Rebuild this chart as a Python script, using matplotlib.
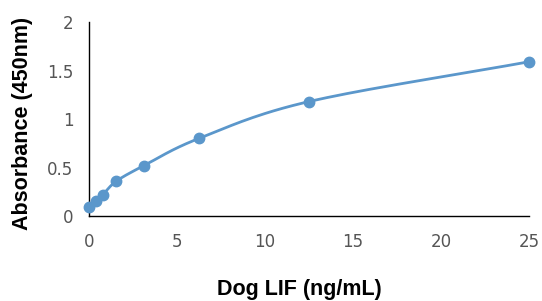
import matplotlib
matplotlib.use("Agg")
import matplotlib.pyplot as plt
import numpy as np

conc = [0, 0.39, 0.78, 1.56, 3.125, 6.25, 12.5, 25]
absorb = [0.09, 0.16, 0.22, 0.36, 0.52, 0.80, 1.18, 1.59]
xticks = [0, 5, 10, 15, 20, 25]
yticks = [0, 0.5, 1, 1.5, 2]
yticklabels = ["0", "0.5", "1", "1.5", "2"]


def suavizar(x, y, passos=30):
    """Curva suave tipo Excel (Catmull-Rom) passando pelos pontos."""
    x = np.asarray(x, float)
    y = np.asarray(y, float)
    px = np.concatenate([[2 * x[0] - x[1]], x, [2 * x[-1] - x[-2]]])
    py = np.concatenate([[2 * y[0] - y[1]], y, [2 * y[-1] - y[-2]]])
    xs, ys = [], []
    t = np.linspace(0, 1, passos)
    for i in range(1, len(px) - 2):
        b1x = px[i] + (px[i + 1] - px[i - 1]) / 6
        b1y = py[i] + (py[i + 1] - py[i - 1]) / 6
        b2x = px[i + 1] - (px[i + 2] - px[i]) / 6
        b2y = py[i + 1] - (py[i + 2] - py[i]) / 6
        xs.append((1 - t) ** 3 * px[i] + 3 * (1 - t) ** 2 * t * b1x
                  + 3 * (1 - t) * t ** 2 * b2x + t ** 3 * px[i + 1])
        ys.append((1 - t) ** 3 * py[i] + 3 * (1 - t) ** 2 * t * b1y
                  + 3 * (1 - t) * t ** 2 * b2y + t ** 3 * py[i + 1])
    return np.concatenate(xs), np.concatenate(ys)


cor = "#5b97cb"
fig = plt.figure(figsize=(5.42, 3.01), dpi=100)
ax = fig.add_axes([0.164, 0.282, 0.812, 0.645])

sx, sy = suavizar(conc, absorb)
ax.plot(sx, sy, color=cor, linewidth=2.0, zorder=2)
ax.plot(conc, absorb, "o", color=cor, markersize=7.5, zorder=3,
        clip_on=False)

ax.set_xlim(0, 25)
ax.set_ylim(0, 2)
ax.set_xticks(xticks)
ax.set_yticks(yticks)
ax.set_yticklabels(yticklabels)
ax.tick_params(length=0, labelsize=12, colors="#555555")
ax.tick_params(axis="x", pad=12)
ax.tick_params(axis="y", pad=11)
for s in ["top", "right"]:
    ax.spines[s].set_visible(False)
for s in ["left", "bottom"]:
    ax.spines[s].set_color("black")
    ax.spines[s].set_linewidth(1.0)
ax.patch.set_visible(False)

fig.text(0.553, 0.037, "Dog LIF (ng/mL)", fontsize=15.5, fontweight="bold",
         fontfamily="Liberation Sans", ha="center", va="center")
fig.text(0.041, 0.59, "Absorbance (450nm)", fontsize=15.5, fontweight="bold",
         fontfamily="Liberation Sans", ha="center", va="center",
         rotation=90)

fig.savefig("out.png", dpi=100)
plt.close(fig)
